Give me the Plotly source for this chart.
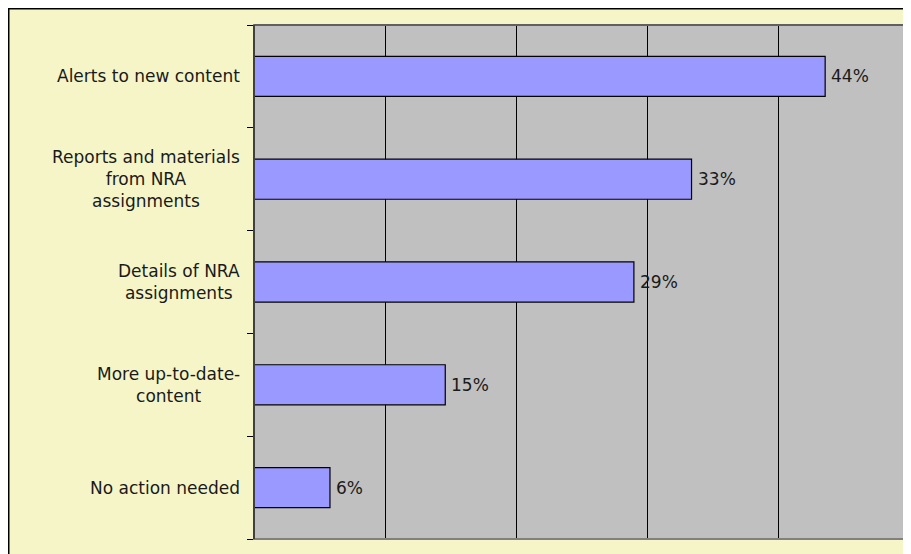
import plotly.graph_objects as go

categories = ["Alerts to new content",
              "Reports and materials<br>from NRA<br>assignments",
              "Details of NRA<br>assignments",
              "More up-to-date-<br>content",
              "No action needed"]
values = [43.6, 33.4, 29.0, 14.6, 5.8]
value_labels = ["44%", "33%", "29%", "15%", "6%"]

FONT = "DejaVu Sans"
BG = "#F5F5C8"
FS = 17

# figure is placed at (8,8) by the page; plot area spans x 246..901, y 17..531 in figure px
W, H = 903, 546
L, T, R, B = 246, 17, 2, 15
PW, PH = W - L - R, H - T - B

fig = go.Figure()
fig.add_trace(go.Bar(
    y=list(range(len(categories))), x=values, orientation="h",
    marker=dict(color="#9999FF", line=dict(color="#000000", width=1.2)),
    width=0.39, hoverinfo="skip",
))

annotations = []
for i, (c, v, t) in enumerate(zip(categories, values, value_labels)):
    annotations.append(dict(x=0, y=i, xref="x", yref="y", text=c, showarrow=False,
                            xanchor="right", yanchor="middle", align="center", xshift=-12,
                            font=dict(family=FONT, size=FS, color="#1a1a1a")))
    annotations.append(dict(x=v, y=i, xref="x", yref="y", text=t, showarrow=False,
                            xanchor="left", yanchor="middle", xshift=4,
                            font=dict(family=FONT, size=FS, color="#1a1a1a")))

fig.update_layout(
    width=W, height=H,
    margin=dict(l=L, r=R, t=T, b=B),
    paper_bgcolor=BG, plot_bgcolor="#C0C0C0",
    showlegend=False,
    annotations=annotations,
    xaxis=dict(range=[0, 50], dtick=10, showgrid=True, gridcolor="#000000", gridwidth=1,
               showticklabels=False, zeroline=False, showline=False, fixedrange=True),
    yaxis=dict(range=[4.5, -0.5], tickmode="array", tickvals=[-0.5, 0.5, 1.5, 2.5, 3.5, 4.5],
               showticklabels=False, ticks="outside", ticklen=6, tickcolor="#000000",
               showgrid=False, zeroline=False, showline=True, linecolor="#000000", linewidth=1,
               fixedrange=True),
    shapes=[
        dict(type="rect", xref="paper", yref="paper", x0=0, x1=1, y0=0, y1=1,
             line=dict(color="#808080", width=2), layer="above"),
        dict(type="line", xref="paper", yref="paper", x0=0, x1=0, y0=0, y1=1,
             line=dict(color="#000000", width=1), layer="above"),
        dict(type="line", xref="paper", yref="paper", x0=0, x1=1, y0=1, y1=1,
             line=dict(color="#404040", width=1), layer="above"),
        dict(type="rect", xref="paper", yref="paper",
             x0=-L / PW, x1=1 + (R + 20) / PW, y0=-(B + 20) / PH, y1=1 + T / PH,
             line=dict(color="#000000", width=3), layer="below"),
    ],
)

fig.write_html("out.html")
